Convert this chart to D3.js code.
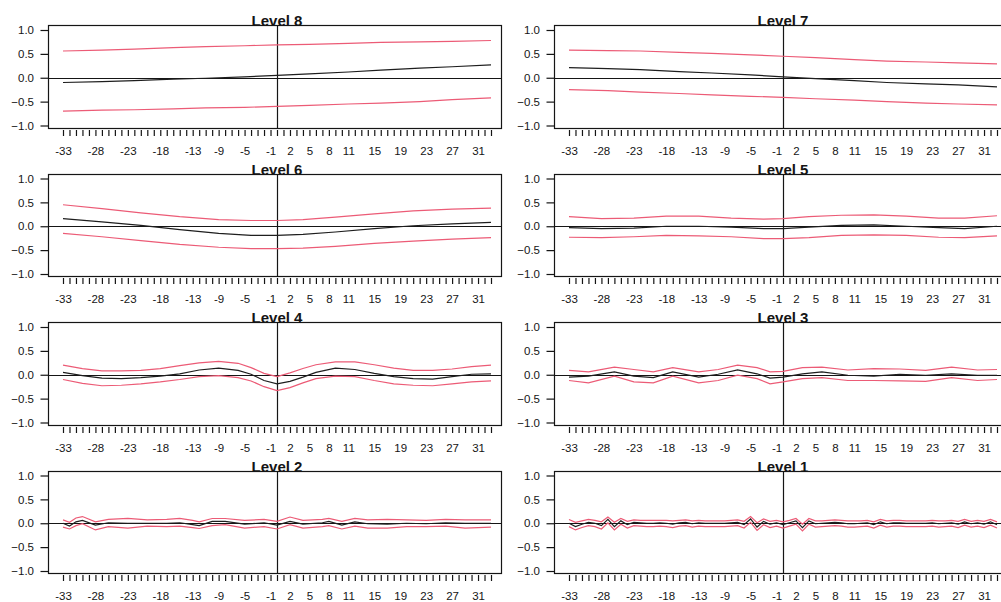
<!DOCTYPE html>
<html><head><meta charset="utf-8">
<script src="https://cdn.jsdelivr.net/npm/d3@7"></script>
<style>
body{margin:0;background:#fff}
svg{display:block;font-family:"Liberation Sans",Arial,sans-serif}
</style>
</head><body>
<svg id="c" width="1001" height="602"></svg>
<script>
// ---------- tick definitions ----------
const lagTicks = d3.range(-33, 34);
const xLabels = [-33,-28,-23,-18,-13,-9,-5,-1,2,5,8,11,15,19,23,27,31];
const yTicks = [-1, -0.5, 0, 0.5, 1];
const titles = ["Level 8","Level 7","Level 6","Level 5","Level 4","Level 3","Level 2","Level 1"];

// ---------- data: lag, estimate, upper and lower bands ----------
const lags8 = [-33,-27,-22,-16,-11,-5,0,5,11,16,22,27,33];
const est8 = [-0.10,-0.08,-0.06,-0.03,-0.01,0.02,0.05,0.08,0.12,0.16,0.20,0.23,0.27];
const up8  = [0.56,0.58,0.60,0.63,0.65,0.67,0.69,0.70,0.72,0.74,0.75,0.76,0.78];
const lo8  = [-0.70,-0.68,-0.67,-0.65,-0.63,-0.62,-0.60,-0.58,-0.55,-0.53,-0.50,-0.46,-0.42];

const lags7 = [-33,-27,-22,-16,-11,-5,0,5,11,16,22,27,33];
const est7 = [0.21,0.19,0.17,0.13,0.10,0.06,0.02,-0.02,-0.06,-0.10,-0.13,-0.15,-0.19];
const up7  = [0.58,0.57,0.56,0.53,0.51,0.48,0.45,0.42,0.38,0.35,0.33,0.31,0.29];
const lo7  = [-0.25,-0.27,-0.30,-0.33,-0.36,-0.39,-0.41,-0.44,-0.47,-0.50,-0.53,-0.55,-0.57];

const lags6 = [-33,-27,-21,-15,-9,-4,0,4,9,15,21,27,33];
const est6 = [0.16,0.09,0.02,-0.07,-0.15,-0.19,-0.19,-0.17,-0.12,-0.05,0.01,0.05,0.08];
const up6  = [0.45,0.37,0.28,0.20,0.14,0.12,0.12,0.14,0.19,0.26,0.32,0.36,0.38];
const lo6  = [-0.15,-0.22,-0.30,-0.38,-0.44,-0.47,-0.47,-0.46,-0.42,-0.36,-0.31,-0.27,-0.24];

const lags5 = [-33,-28,-23,-18,-13,-8,-3,0,4,9,14,19,24,28,33];
const est5 = [-0.03,-0.05,-0.04,0.00,0.00,-0.02,-0.05,-0.05,-0.02,0.02,0.03,0.00,-0.03,-0.05,0.00];
const up5  = [0.20,0.16,0.17,0.21,0.21,0.17,0.15,0.16,0.20,0.23,0.24,0.21,0.17,0.17,0.22];
const lo5  = [-0.23,-0.24,-0.22,-0.19,-0.20,-0.22,-0.26,-0.26,-0.24,-0.19,-0.18,-0.19,-0.23,-0.24,-0.20];

const lags4 = [-33,-30,-27,-24,-21,-18,-15,-12,-9,-6,-4,-2,0,2,4,6,9,12,15,18,21,24,27,30,33];
const est4 = [0.05,-0.02,-0.07,-0.08,-0.06,-0.03,0.02,0.10,0.14,0.09,0.01,-0.12,-0.19,-0.14,-0.05,0.05,0.14,0.11,0.03,-0.04,-0.08,-0.09,-0.04,0.01,0.02];
const up4  = [0.20,0.13,0.08,0.08,0.09,0.13,0.19,0.25,0.28,0.24,0.15,0.03,-0.04,0.04,0.13,0.21,0.27,0.27,0.21,0.14,0.09,0.09,0.12,0.17,0.20];
const lo4  = [-0.10,-0.18,-0.23,-0.22,-0.19,-0.15,-0.10,-0.04,-0.02,-0.06,-0.13,-0.25,-0.33,-0.27,-0.17,-0.08,-0.03,-0.04,-0.12,-0.19,-0.22,-0.23,-0.19,-0.15,-0.13];

const lags3 = [-33,-30,-26,-23,-20,-17,-13,-10,-7,-4,-2,0,3,6,10,14,18,22,26,30,33];
const est3 = [-0.05,-0.03,0.06,-0.03,-0.06,0.06,-0.05,0.01,0.10,0.02,-0.07,-0.05,0.02,0.06,-0.01,-0.03,0.01,-0.01,0.02,-0.01,-0.01];
const up3  = [0.09,0.06,0.16,0.11,0.06,0.15,0.06,0.11,0.20,0.15,0.06,0.07,0.15,0.16,0.10,0.13,0.12,0.09,0.16,0.10,0.11];
const lo3  = [-0.12,-0.17,-0.03,-0.15,-0.17,-0.03,-0.17,-0.12,-0.01,-0.08,-0.19,-0.15,-0.08,-0.06,-0.12,-0.12,-0.13,-0.14,-0.06,-0.12,-0.10];

const lags2 = [-33,-32,-31,-30,-28,-26,-23,-20,-17,-15,-13,-12,-10,-8,-5,-2,0,2,4,7,8,10,12,14,17,20,23,26,29,33];
const est2 = [0.00,-0.06,0.03,0.06,-0.04,0.01,0.00,0.00,0.00,0.01,-0.03,-0.05,0.04,0.04,-0.02,0.01,-0.04,0.04,-0.02,0.01,0.04,-0.04,0.03,-0.01,-0.02,0.00,-0.01,0.01,0.00,0.00];
const up2  = [0.07,0.02,0.11,0.14,0.03,0.08,0.10,0.07,0.08,0.10,0.06,0.03,0.10,0.10,0.06,0.08,0.04,0.13,0.06,0.08,0.10,0.04,0.10,0.07,0.08,0.07,0.06,0.08,0.07,0.07];
const lo2  = [-0.08,-0.12,-0.05,-0.01,-0.14,-0.07,-0.10,-0.06,-0.07,-0.06,-0.09,-0.11,-0.05,-0.03,-0.10,-0.07,-0.12,-0.03,-0.10,-0.07,-0.05,-0.12,-0.06,-0.10,-0.10,-0.07,-0.07,-0.06,-0.10,-0.08];

const lags1 = d3.range(-33, 34);
const est1 = [0.00,-0.07,-0.02,0.02,0.00,-0.05,0.08,-0.07,0.05,-0.03,0.02,0.01,0.00,0.00,0.01,0.00,-0.02,0.01,0.02,-0.01,0.01,0.00,0.00,0.00,0.00,0.01,0.02,-0.03,0.09,-0.08,0.04,-0.02,0.01,-0.03,0.01,0.05,-0.09,0.05,-0.01,0.00,0.01,0.02,0.01,-0.01,-0.01,0.00,0.01,-0.03,0.03,-0.01,0.01,0.01,0.00,0.00,0.00,0.00,0.01,-0.01,0.00,0.01,-0.02,0.03,-0.01,0.01,-0.02,0.03,-0.03];
const up1  = [0.08,0.02,0.05,0.08,0.06,0.03,0.13,0.02,0.10,0.04,0.07,0.06,0.06,0.06,0.06,0.06,0.05,0.06,0.07,0.05,0.06,0.05,0.05,0.05,0.05,0.06,0.07,0.04,0.14,0.01,0.09,0.04,0.06,0.03,0.06,0.10,-0.02,0.10,0.05,0.05,0.06,0.07,0.06,0.05,0.05,0.05,0.06,0.03,0.08,0.05,0.06,0.06,0.05,0.05,0.05,0.05,0.06,0.05,0.05,0.06,0.04,0.08,0.04,0.06,0.04,0.08,0.03];
const lo1  = [-0.07,-0.14,-0.09,-0.05,-0.07,-0.12,0.01,-0.14,-0.02,-0.10,-0.05,-0.06,-0.07,-0.07,-0.06,-0.07,-0.09,-0.06,-0.05,-0.08,-0.06,-0.07,-0.07,-0.07,-0.07,-0.06,-0.05,-0.10,0.02,-0.15,-0.03,-0.09,-0.06,-0.10,-0.06,-0.02,-0.16,-0.02,-0.08,-0.07,-0.06,-0.05,-0.06,-0.08,-0.08,-0.07,-0.06,-0.10,-0.04,-0.08,-0.06,-0.06,-0.07,-0.07,-0.07,-0.07,-0.06,-0.08,-0.07,-0.06,-0.09,-0.04,-0.08,-0.06,-0.09,-0.04,-0.10];

const panelData = [
  [lags8, est8, up8, lo8], [lags7, est7, up7, lo7],
  [lags6, est6, up6, lo6], [lags5, est5, up5, lo5],
  [lags4, est4, up4, lo4], [lags3, est3, up3, lo3],
  [lags2, est2, up2, lo2], [lags1, est1, up1, lo1]
];

// ---------- drawing ----------
const svg = d3.select("#c");
const ink = "#151515";
const bandColor = "#EC5B76";
const font = '"Liberation Sans",Arial,sans-serif';

panelData.forEach((pd, i) => {
  const row = Math.floor(i / 2), col = i % 2;
  const off = row * 148.5;
  const xStart = col === 0 ? 63 : 569;
  const x = d3.scaleLinear().domain([-33, 33]).range([xStart, xStart + 428]);
  const y = d3.scaleLinear().domain([-1, 1]).range([125.5 + off, 30 + off]);

  const bx0 = Math.round(x(-33) - 15.5) + 0.5;
  const bx1 = Math.round(x(33) + 10) + 0.5;
  const by0 = Math.round(y(1) - 5) + 0.5;
  const by1 = Math.round(y(-1) + 2) + 0.5;
  const zx = Math.round(x(0)) + 0.5;
  const zy = Math.round(y(0)) + 0.5;

  const g = svg.append("g");
  const clipId = "clip" + i;
  g.append("clipPath").attr("id", clipId).append("rect")
    .attr("x", bx0).attr("y", by0).attr("width", bx1 - bx0).attr("height", by1 - by0);

  const plot = g.append("g").attr("clip-path", `url(#${clipId})`);
  const [lags, est, up, lo] = pd;
  const line = d3.line().x(d => x(d[0])).y(d => y(d[1]));

  // reference lines
  plot.append("line").attr("x1", bx0).attr("x2", bx1)
    .attr("y1", zy).attr("y2", zy).attr("stroke", ink).attr("stroke-width", 1.2);
  plot.append("line").attr("x1", zx).attr("x2", zx)
    .attr("y1", by0).attr("y2", by1).attr("stroke", ink).attr("stroke-width", 1.2);

  [up, lo].forEach(s => {
    plot.append("path").datum(lags.map((l, k) => [l, s[k]]))
      .attr("d", line).attr("fill", "none").attr("stroke", bandColor).attr("stroke-width", 1.2);
  });
  plot.append("path").datum(lags.map((l, k) => [l, est[k]]))
    .attr("d", line).attr("fill", "none").attr("stroke", "#1e1e1e").attr("stroke-width", 1.2);

  // frame
  g.append("rect").attr("x", bx0).attr("y", by0)
    .attr("width", bx1 - bx0).attr("height", by1 - by0)
    .attr("fill", "none").attr("stroke", ink).attr("stroke-width", 1.2);

  // y axis
  const ya = g.append("g").attr("transform", `translate(${bx0},0)`)
    .call(d3.axisLeft(y).tickValues(yTicks).tickSize(8).tickPadding(6.5).tickFormat(d3.format(".1f")));
  ya.select(".domain").remove();
  ya.selectAll("line").attr("stroke", ink).attr("stroke-width", 1.2);
  ya.selectAll("text").attr("fill", ink).style("font-size", "11.5px").style("font-family", font);

  // x axis (ticks detached below frame)
  const xa = g.append("g").attr("transform", `translate(0,${by1 + 1.5})`)
    .call(d3.axisBottom(x).tickValues(lagTicks).tickSize(6).tickPadding(10.5)
      .tickFormat(d => xLabels.includes(d) ? String(d) : ""));
  xa.select(".domain").remove();
  xa.selectAll("line").attr("stroke", ink).attr("stroke-width", 1.2);
  xa.selectAll("text").attr("fill", ink).style("font-size", "11.5px").style("font-family", font);

  // title
  g.append("text").attr("x", x(0)).attr("y", by0 + 0.5)
    .attr("text-anchor", "middle").attr("fill", ink)
    .style("font-size", "15px").style("font-weight", "bold").style("font-family", font)
    .text(titles[i]);
});
</script>
</body></html>
